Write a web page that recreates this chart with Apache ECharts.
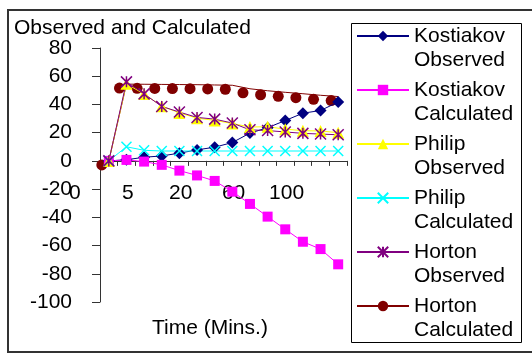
<!DOCTYPE html>
<html>
<head>
<meta charset="utf-8">
<script src="https://cdn.jsdelivr.net/npm/echarts@6/dist/echarts.min.js"></script>
<style>
    html,body{margin:0;padding:0;background:#fff;}
    #chart{width:532px;height:358px;}
</style>
</head>
<body>
<div id="chart"></div>
<script>
// time steps (mins) - only every 3rd one is labelled
const categories = ['0','1','3','5','10','15','20','30','45','60','75','90','100','120'];

const kostiakovObserved   = [0, 0.8, 2.6, 3.5, 5.5, 7.8, 9.7, 13, 19.7, 23.5, 28.6, 33.8, 35.7, 41.7];
const kostiakovCalculated = [0, 0.7, -0.5, -2.8, -6.9, -10.3, -14.2, -21.8, -30.5, -39.5, -48.5, -57.3, -62.5, -73.3];
const philipObserved      = [0, 54.6, 47.4, 38.8, 34, 30.3, 28.7, 26.5, 24, 24.2, 22.5, 21.4, 21.2, 20];
const philipCalculated    = [0, 10, 7.5, 7, 7, 7, 7, 7, 7, 7, 7, 7, 7, 7];
const hortonObserved      = [0, 56, 47.5, 38.6, 34.6, 30.8, 29.6, 26.8, 22, 21.5, 20.5, 19.5, 19, 18.5];
const hortonCalculated    = [0, 54.4, 54.3, 54.2, 54.1, 54, 53.8, 53.6, 51.1, 49.7, 48.6, 47.6, 46.5, 45.6];

const yTicks = {min: -100, max: 80, step: 20};

const FONT = '"Liberation Sans", Arial, sans-serif';
const crossPath = 'path://M0,0L10,10M10,0L0,10';
const starPath  = 'path://M0,0L10,10M10,0L0,10M5,0L5,10';

function lineSeries(name, data, color, symbol, size, extra){
    return Object.assign({
        name: name,
        type: 'line',
        data: data,
        symbol: symbol,
        symbolSize: size,
        showAllSymbol: true,
        color: color,
        lineStyle: {color: color, width: 1},
        itemStyle: {color: color}
    }, extra || {});
}

function init(){
    const chart = echarts.init(document.getElementById('chart'));
    const gridTop = 48, gridHeight = 254;
    // x axis sits on the zero line
    const zeroY = gridTop + gridHeight * yTicks.max / (yTicks.max - yTicks.min);
    const option = {
        animation: false,
        textStyle: {fontFamily: FONT},
        title: [{
            text: 'Observed and Calculated',
            left: 14, top: 18, padding: 0,
            textStyle: {fontSize: 21, fontWeight: 'normal', color: '#000', fontFamily: FONT}
        }, {
            text: 'Time (Mins.)',
            left: 152, top: 318, padding: 0,
            textStyle: {fontSize: 21, fontWeight: 'normal', color: '#000', fontFamily: FONT}
        }],
        graphic: [{
            type: 'rect',
            shape: {x: 8, y: 10, width: 600, height: 342},
            style: {fill: 'none', stroke: '#333', lineWidth: 2},
            silent: true
        }, {
            type: 'rect',
            shape: {x: 351.5, y: 23.5, width: 170, height: 319},
            style: {fill: 'none', stroke: '#000', lineWidth: 1},
            silent: true
        }],
        legend: {
            orient: 'vertical',
            left: 356, top: 0,
            padding: 0,
            itemGap: -18,
            itemWidth: 52,
            itemHeight: 13,
            // blank first line so the icon lines up with the first text line
            formatter: function(name){ return '\n' + name; },
            textStyle: {fontSize: 21, color: '#000', fontFamily: FONT, lineHeight: 24},
            data: ['Kostiakov\nObserved','Kostiakov\nCalculated','Philip\nObserved','Philip\nCalculated','Horton\nObserved','Horton\nCalculated']
        },
        grid: {left: 100, top: gridTop, width: 247, height: gridHeight},
        xAxis: {
            type: 'category',
            data: categories,
            boundaryGap: true,
            offset: -(gridTop + gridHeight - zeroY),
            axisLine: {onZero: false, lineStyle: {color: '#333', width: 1}},
            axisTick: {show: true, interval: 0, length: 5, lineStyle: {color: '#333'}},
            axisLabel: {
                interval: 2, margin: 22, fontSize: 21, color: '#000', fontFamily: FONT,
                padding: [0, 68, 0, 0]
            },
            splitLine: {show: false}
        },
        yAxis: {
            type: 'value',
            min: yTicks.min, max: yTicks.max, interval: yTicks.step,
            axisLine: {show: true, lineStyle: {color: '#333', width: 1}},
            axisTick: {show: true, length: 8, lineStyle: {color: '#333'}},
            axisLabel: {margin: 28, fontSize: 21, color: '#000', fontFamily: FONT},
            splitLine: {show: false}
        },
        series: [
            lineSeries('Kostiakov\nObserved', kostiakovObserved, '#000080', 'diamond', 12),
            lineSeries('Kostiakov\nCalculated', kostiakovCalculated, '#ff00ff', 'rect', 10),
            lineSeries('Philip\nObserved', philipObserved, '#ffff00', 'triangle', 12),
            lineSeries('Philip\nCalculated', philipCalculated, '#00ffff', crossPath, 10,
                {itemStyle: {color: '#00ffff', borderColor: '#00ffff', borderWidth: 1.5}}),
            lineSeries('Horton\nObserved', hortonObserved, '#800080', starPath, 11,
                {itemStyle: {color: '#800080', borderColor: '#800080', borderWidth: 1.5}}),
            lineSeries('Horton\nCalculated', hortonCalculated, '#800000', 'circle', 11,
                {symbolOffset: [-7, 4], z: 1})
        ]
    };
    chart.setOption(option);
}
init();
</script>
</body>
</html>
